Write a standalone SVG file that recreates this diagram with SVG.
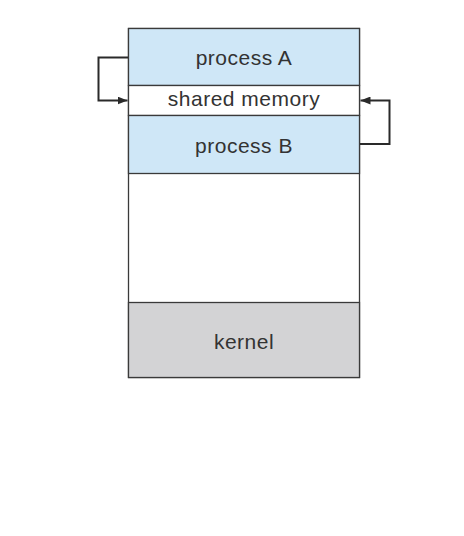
<svg xmlns="http://www.w3.org/2000/svg" width="464" height="536" viewBox="0 0 464 536">
<style>
.box{stroke:#3a3a3a;stroke-width:1.3}
.blue{fill:#cfe7f7}
.white{fill:#ffffff}
.gray{fill:#d3d3d5}
.lbl{font-family:"Liberation Sans",Arial,sans-serif;font-size:21px;letter-spacing:0.5px;fill:#333333;text-anchor:middle}
.conn{fill:none;stroke:#2a2a2a;stroke-width:2}
</style>
<defs>
<marker id="ah" viewBox="0 0 10 8" refX="10" refY="4" markerWidth="10" markerHeight="8" orient="auto" markerUnits="userSpaceOnUse">
<path d="M0,0 L10,4 L0,8 Z" fill="#2a2a2a"/>
</marker>
</defs>
<rect x="0" y="0" width="464" height="536" fill="#ffffff"/>
<g id="memory-frame">
<rect class="box white" x="128.5" y="28.5" width="231" height="349"/>
</g>
<g id="process-a">
<rect class="box blue" x="128.5" y="28.5" width="231" height="57"/>
<text class="lbl" x="244" y="64.5">process A</text>
</g>
<g id="shared-memory">
<rect class="box white" x="128.5" y="85.5" width="231" height="30"/>
<text class="lbl" x="244" y="105.5">shared memory</text>
</g>
<g id="process-b">
<rect class="box blue" x="128.5" y="115.5" width="231" height="58"/>
<text class="lbl" x="244" y="152.5">process B</text>
</g>
<g id="kernel">
<rect class="box gray" x="128.5" y="302.5" width="231" height="75"/>
<text class="lbl" x="244" y="348.5">kernel</text>
</g>
<g id="connectors">
<path class="conn" d="M128,57.5 H98.5 V100.5 H127.5" marker-end="url(#ah)"/>
<path class="conn" d="M360,144 H389.5 V100.5 H360.5" marker-end="url(#ah)"/>
</g>
</svg>
